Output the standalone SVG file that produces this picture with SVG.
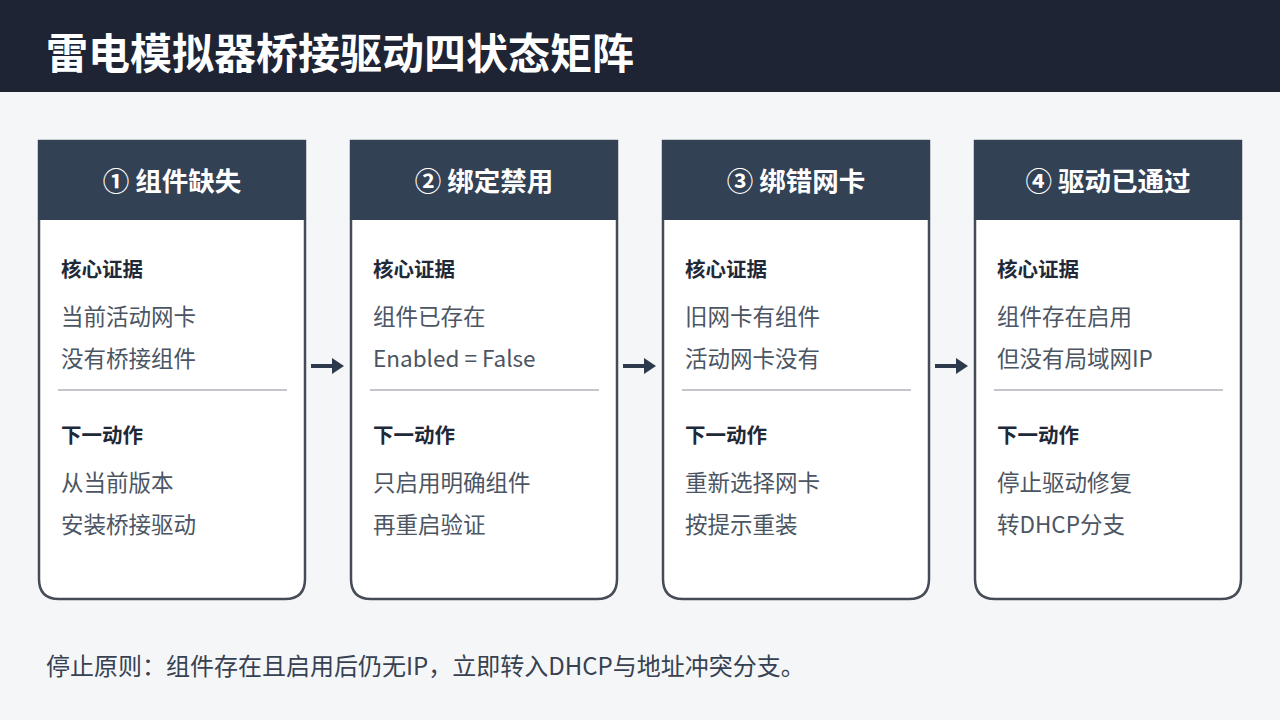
<svg xmlns="http://www.w3.org/2000/svg" width="1280" height="720" viewBox="0 0 1280 720">
<defs>
<style>
.bg{fill:#f5f6f8}
.bar{fill:#1e2433}
.title{font-family:"Noto Sans CJK SC","Noto Sans",sans-serif;font-weight:700;font-size:42px;fill:#ffffff}
.card{fill:#ffffff;stroke:#454b57;stroke-width:2.5}
.head{fill:#334155}
.htxt{font-family:"Noto Sans CJK SC","Noto Sans",sans-serif;font-weight:700;font-size:26.5px;fill:#ffffff;text-anchor:middle}
.lab{font-family:"Noto Sans CJK SC","Noto Sans",sans-serif;font-weight:700;font-size:20.5px;fill:#1f2937}
.txt{font-family:"Noto Sans CJK SC","Noto Sans",sans-serif;font-size:22.5px;fill:#4b5563}
.div{stroke:#c3c7cc;stroke-width:2}
.conn{stroke:#2d3a4e;stroke-width:4;fill:none}
.foot{font-family:"Noto Sans CJK SC","Noto Sans",sans-serif;font-size:24px;fill:#374151}
</style>
<marker id="ah" markerWidth="4" markerHeight="4" refX="1" refY="2" orient="auto" markerUnits="strokeWidth">
<path d="M0,0 L3,2 L0,4 Z" fill="#2d3a4e"/>
</marker>
</defs>
<rect class="bg" x="0" y="0" width="1280" height="720"/>
<rect class="bar" x="0" y="0" width="1280" height="92"/>
<text class="title" x="46" y="69">雷电模拟器桥接驱动四状态矩阵</text>

<g id="node1">
<path class="card" d="M39,141 H305 V579 Q305,599 285,599 H59 Q39,599 39,579 Z"/>
<rect class="head" x="38" y="140" width="268" height="80"/>
<text class="htxt" x="172" y="191">① 组件缺失</text>
<text class="lab" x="61" y="277">核心证据</text>
<text class="txt" x="61" y="325">当前活动网卡</text>
<text class="txt" x="61" y="367">没有桥接组件</text>
<line class="div" x1="58" y1="390" x2="287" y2="390"/>
<text class="lab" x="61" y="443">下一动作</text>
<text class="txt" x="61" y="491">从当前版本</text>
<text class="txt" x="61" y="533">安装桥接驱动</text>
</g>

<g id="node2">
<path class="card" d="M351,141 H617 V579 Q617,599 597,599 H371 Q351,599 351,579 Z"/>
<rect class="head" x="350" y="140" width="268" height="80"/>
<text class="htxt" x="484" y="191">② 绑定禁用</text>
<text class="lab" x="373" y="277">核心证据</text>
<text class="txt" x="373" y="325">组件已存在</text>
<text class="txt" x="373" y="367">Enabled = False</text>
<line class="div" x1="370" y1="390" x2="599" y2="390"/>
<text class="lab" x="373" y="443">下一动作</text>
<text class="txt" x="373" y="491">只启用明确组件</text>
<text class="txt" x="373" y="533">再重启验证</text>
</g>

<g id="node3">
<path class="card" d="M663,141 H929 V579 Q929,599 909,599 H683 Q663,599 663,579 Z"/>
<rect class="head" x="662" y="140" width="268" height="80"/>
<text class="htxt" x="796" y="191">③ 绑错网卡</text>
<text class="lab" x="685" y="277">核心证据</text>
<text class="txt" x="685" y="325">旧网卡有组件</text>
<text class="txt" x="685" y="367">活动网卡没有</text>
<line class="div" x1="682" y1="390" x2="911" y2="390"/>
<text class="lab" x="685" y="443">下一动作</text>
<text class="txt" x="685" y="491">重新选择网卡</text>
<text class="txt" x="685" y="533">按提示重装</text>
</g>

<g id="node4">
<path class="card" d="M975,141 H1241 V579 Q1241,599 1221,599 H995 Q975,599 975,579 Z"/>
<rect class="head" x="974" y="140" width="268" height="80"/>
<text class="htxt" x="1108" y="191">④ 驱动已通过</text>
<text class="lab" x="997" y="277">核心证据</text>
<text class="txt" x="997" y="325">组件存在启用</text>
<text class="txt" x="997" y="367">但没有局域网IP</text>
<line class="div" x1="994" y1="390" x2="1223" y2="390"/>
<text class="lab" x="997" y="443">下一动作</text>
<text class="txt" x="997" y="491">停止驱动修复</text>
<text class="txt" x="997" y="533">转DHCP分支</text>
</g>

<g id="connectors">
<line class="conn" x1="311" y1="366" x2="336" y2="366" marker-end="url(#ah)"/>
<line class="conn" x1="623" y1="366" x2="648" y2="366" marker-end="url(#ah)"/>
<line class="conn" x1="935" y1="366" x2="960" y2="366" marker-end="url(#ah)"/>
</g>

<text class="foot" x="46" y="675">停止原则：组件存在且启用后仍无IP，立即转入DHCP与地址冲突分支。</text>
</svg>
